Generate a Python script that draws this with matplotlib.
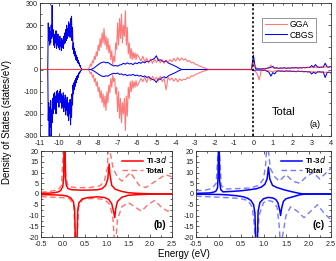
import numpy as np
import matplotlib
matplotlib.use("Agg")
import matplotlib.pyplot as plt
from matplotlib.ticker import MultipleLocator

plt.rcParams['font.family'] = ['Liberation Sans', 'DejaVu Sans']
plt.rcParams['axes.unicode_minus'] = False

# ---- panel (a): total DOS, spin up (+) and spin down (-) ----
# CBGS, energy grids start / step for each segment
cbgs_core_up = [0, 210, 130, 190, 110, 170, 120, 200, 140, 290,
                150, 180, 110, 160, 100, 150, 120, 175, 95, 140,
                110, 160, 100, 135, 90, 150, 105, 125, 85, 140,
                100, 130, 95, 150, 115, 165, 120, 180, 130, 200,
                140, 185, 150, 215, 160, 205, 145, 230, 170, 240,
                130, 190, 90, 120, 70, 95, 60, 80, 45, 65,
                40, 55, 30, 40, 25, 30, 15, 18, 8, 6,
                2, 0, 0]
cbgs_core_dn = [0, -230, -150, -310, -170, -260, -140, -320, -180, -240,
                -130, -200, -110, -180, -105, -160, -120, -200, -100, -150,
                -95, -140, -110, -170, -100, -135, -90, -150, -110, -175,
                -120, -165, -105, -190, -130, -170, -115, -205, -140, -185,
                -125, -210, -150, -230, -160, -200, -135, -250, -150, -215,
                -110, -160, -70, -110, -60, -90, -50, -75, -40, -60,
                -30, -45, -25, -35, -15, -20, -10, -12, -5, -4,
                -1, 0, 0]
cbgs_mid_up = [0, 3, 8, 15, 22, 28, 32, 34, 30, 32,
               26, 20, 16, 18, 15, 20, 22, 28, 24, 30,
               25, 27, 22, 30, 26, 32, 28, 35, 30, 38,
               34, 42, 45, 50, 62, 40, 44, 38, 34, 40,
               30, 26, 22, 18, 14, 9, 4, 0]
cbgs_mid_dn = [0, -3, -8, -14, -20, -26, -30, -32, -28, -30,
               -24, -20, -17, -19, -16, -22, -20, -25, -22, -28,
               -24, -26, -22, -28, -25, -30, -27, -33, -29, -36,
               -32, -40, -45, -48, -58, -42, -45, -36, -33, -38,
               -30, -25, -21, -17, -13, -8, -4, 0]
cbgs_cb_up = [0, 65, 5, 2, 3, 2, 4, 3, 6, 8,
              10, 14, 6, 8, 5, 7, 6, 8, 5, 7,
              6, 8, 7, 9, 6, 8, 7, 9, 8, 10,
              9, 18, 10, 22, 12, 9, 11, 10, 28, 12,
              10, 14]
cbgs_cb_dn = [0, -5, -3, -2, -3, -2, -4, -3, -8, -12,
              -30, -14, -20, -8, -6, -8, -7, -9, -6, -8,
              -7, -9, -8, -10, -7, -9, -8, -10, -9, -11,
              -10, -20, -12, -18, -11, -10, -12, -11, -36, -14,
              -12, -16]

# GGA
gga_vb1_up = [0, 10, 25, 15, 40, 30, 60, 45, 80, 60,
              110, 85, 140, 100, 165, 120, 185, 110, 150, 90,
              140, 75, 110, 45, 85, 20, 60, 35, 120, 90,
              210, 110, 230, 140, 250, 120, 200, 150, 265, 110,
              190, 70, 120, 50, 95, 45, 80, 50, 75, 45,
              70]
gga_vb1_dn = [0, -8, -20, -12, -35, -25, -55, -40, -75, -55,
              -100, -80, -130, -95, -150, -110, -170, -120, -185, -100,
              -150, -70, -105, -40, -80, -25, -55, -40, -110, -80,
              -190, -100, -220, -130, -240, -150, -200, -130, -275, -120,
              -210, -80, -130, -55, -100, -50, -85, -55, -80, -50,
              -75]
gga_vb2_up = [55, 38, 60, 35, 52, 30, 48, 28, 45, 32,
              50, 30, 46, 28, 42, 30, 45, 35, 50, 38,
              54, 40, 52, 42, 48, 36, 40, 30, 32, 24,
              22, 16, 14, 9, 7, 3, 0]
gga_vb2_dn = [-60, -40, -55, -35, -58, -32, -50, -30, -48, -35,
              -52, -30, -55, -40, -92, -35, -48, -38, -52, -40,
              -56, -42, -50, -44, -46, -36, -40, -28, -30, -22,
              -20, -15, -12, -8, -6, -3, 0]
gga_cb_up = [0, 35, 12, 4, 3, 2, 3, 5, 4, 6,
             20, 8, 5, 6, 5, 6, 5, 7, 6, 7,
             6, 7, 7, 8, 7, 8, 8, 9, 8, 9,
             9, 10, 9, 10, 10, 11, 10, 11, 12, 11,
             12, 12]
gga_cb_dn = [0, -5, -8, -20, -47, -6, -3, -4, -5, -6,
             -8, -10, -6, -7, -6, -7, -6, -8, -7, -8,
             -7, -8, -8, -9, -8, -9, -9, -10, -9, -10,
             -10, -11, -10, -11, -11, -12, -11, -12, -13, -12,
             -13, -13]

# ---- panels (b), (c): Ti-3d and total near the gap ----
b_ti_up_e = [-0.5, -0.3, -0.2, -0.1, -0.05, 0.0, 0.02, 0.03, 0.05, 0.06, 0.08, 0.12, 0.2, 0.4,
             0.6, 0.8, 0.9, 0.98, 1.03, 1.06, 1.08, 1.12, 1.2, 1.35, 1.5, 1.7, 2.0, 2.5]
b_ti_up = [0.3, 0.4, 0.6, 1.0, 1.6, 3.5, 8, 25, 25, 8, 4, 2.5, 2.0, 1.8,
           1.8, 2.0, 2.5, 4, 7, 14, 9, 4, 2.2, 1.2, 0.6, 0.3, 0.1, 0]
b_ti_dn_e = [-0.5, -0.2, 0.0, 0.1, 0.18, 0.24, 0.27, 0.29, 0.32, 0.34, 0.37, 0.45, 0.6, 0.8,
             0.95, 1.05, 1.12, 1.16, 1.19, 1.21, 1.25, 1.35, 1.5, 1.7, 2.0, 2.5]
b_ti_dn = [-0.3, -0.4, -0.6, -1.0, -1.8, -3.5, -7, -25, -25, -8, -4, -2.2, -1.6, -1.3,
           -1.6, -2.5, -4.5, -8, -11, -7, -3.5, -1.5, -0.6, -0.3, -0.1, 0]
b_tot_up_e = [-0.5, -0.3, -0.1, -0.03, 0.01, 0.04, 0.07, 0.12, 0.3, 0.6, 0.85, 0.95, 1.02, 1.05,
              1.08, 1.15, 1.25, 1.35, 1.45, 1.55, 1.65, 1.75, 1.9, 2.05, 2.2, 2.35, 2.5]
b_tot_up = [0.8, 1.2, 2.0, 4, 20, 25, 8, 3.5, 3.0, 3.0, 3.8, 6, 12, 25,
            20, 12, 8, 6, 8, 10, 7, 4, 3, 5, 7, 9, 8]
b_tot_dn_e = [-0.5, -0.2, 0.0, 0.15, 0.25, 0.29, 0.32, 0.36, 0.45, 0.7, 0.95, 1.08, 1.15, 1.19,
              1.22, 1.25, 1.35, 1.5, 1.65, 1.8, 1.95, 2.1, 2.25, 2.4, 2.5]
b_tot_dn = [-1.2, -1.5, -1.7, -2.2, -5, -25, -25, -6, -2.5, -2.0, -2.5, -5, -12, -25,
            -20, -12, -6, -4, -6, -8, -5, -3, -6, -8, -7]

c_ti_up_e = [-0.5, -0.2, -0.1, -0.05, -0.02, -0.01, 0.0, 0.015, 0.025, 0.05, 0.1, 0.3, 0.5, 0.7,
             0.85, 0.95, 1.03, 1.08, 1.11, 1.14, 1.2, 1.3, 1.45, 1.6, 1.75, 1.85, 2.0, 2.5]
c_ti_up = [0.3, 0.5, 0.9, 1.5, 3, 8, 25, 25, 6, 2, 1.0, 1.2, 1.5, 2.0,
           2.5, 3.2, 4.5, 7, 12.5, 7, 4, 3, 2.0, 1.2, 0.5, 0.1, 0, 0]
c_ti_dn_e = [-0.5, 0.0, 0.2, 0.4, 0.55, 0.65, 0.72, 0.78, 0.81, 0.83, 0.86, 0.88, 0.92, 1.0,
             1.1, 1.2, 1.27, 1.32, 1.36, 1.38, 1.4, 1.44, 1.5, 1.6, 1.7, 1.8, 1.9, 2.1, 2.5]
c_ti_dn = [-0.1, -0.2, -0.4, -0.8, -1.3, -2.0, -3.0, -5, -9, -25, -25, -8, -4, -2.2,
           -1.6, -1.8, -2.5, -4, -7.5, -10, -7, -3.5, -2.2, -1.6, -1.0, -0.4, -0.1, 0, 0]
c_tot_up_e = [-0.5, -0.3, -0.15, -0.05, -0.01, 0.0, 0.02, 0.06, 0.15, 0.4, 0.7, 0.9, 1.0, 1.05,
              1.08, 1.11, 1.15, 1.25, 1.35, 1.5, 1.65, 1.8, 1.95, 2.1, 2.25, 2.4, 2.5]
c_tot_up = [1.5, 1.8, 2.5, 5, 20, 25, 20, 4, 2.3, 2.5, 2.8, 4, 7, 14,
            25, 20, 12, 8, 6, 9, 6, 5, 8, 10, 7, 10, 12]
c_tot_dn_e = [-0.5, -0.3, 0.0, 0.3, 0.5, 0.65, 0.75, 0.8, 0.83, 0.86, 0.9, 1.0, 1.1, 1.2,
              1.3, 1.35, 1.38, 1.42, 1.5, 1.6, 1.75, 1.9, 2.05, 2.2, 2.35, 2.5]
c_tot_dn = [-1.0, -1.2, -1.5, -1.8, -2.2, -3, -6, -15, -25, -25, -10, -4, -3, -3.5,
            -6, -15, -25, -20, -10, -6, -8, -11, -8, -5, -9, -12]


def grid(start, step, vals):
    return start + step * np.arange(len(vals))


cbgs_e = np.concatenate([grid(-10.6, 0.025, cbgs_core_up),
                         grid(-8.4, 0.1, cbgs_mid_up), grid(-0.1, 0.1, cbgs_cb_up)])
cbgs_up = np.concatenate([cbgs_core_up, cbgs_mid_up, cbgs_cb_up])
cbgs_dn = np.concatenate([cbgs_core_dn, cbgs_mid_dn, cbgs_cb_dn])
gga_e = np.concatenate([[-11.0], grid(-8.5, 0.05, gga_vb1_up),
                        grid(-5.9, 0.1, gga_vb2_up), grid(-0.1, 0.1, gga_cb_up)])
gga_up = np.concatenate([[0], gga_vb1_up, gga_vb2_up, gga_cb_up])
gga_dn = np.concatenate([[0], gga_vb1_dn, gga_vb2_dn, gga_cb_dn])

W, H = 336, 261
fig = plt.figure(figsize=(W / 100, H / 100), dpi=100)
ax_a = fig.add_axes([40 / W, 1 - 136 / H, 291 / W, 133 / H])
ax_b = fig.add_axes([41 / W, 1 - 237 / H, 131 / W, 86 / H])
ax_c = fig.add_axes([196 / W, 1 - 237 / H, 135 / W, 86 / H])


def style(ax, xmaj, xmin, ymaj, ymin):
    ax.xaxis.set_major_locator(MultipleLocator(xmaj))
    ax.xaxis.set_minor_locator(MultipleLocator(xmin))
    ax.yaxis.set_major_locator(MultipleLocator(ymaj))
    ax.yaxis.set_minor_locator(MultipleLocator(ymin))
    ax.tick_params(which='both', direction='in', top=True, right=True,
                   width=0.5, labelsize=5.2, colors='#222222')
    ax.tick_params(axis='x', pad=2.6)
    ax.tick_params(axis='y', pad=1.5)
    ax.tick_params(which='major', length=2.2)
    ax.tick_params(which='minor', length=1.2)
    for s in ax.spines.values():
        s.set_linewidth(0.6)
        s.set_color('#333333')


# (a)
ax_a.plot(cbgs_e, cbgs_up, color='#0000ee', lw=0.75, label='CBGS')
ax_a.plot(cbgs_e, cbgs_dn, color='#0000ee', lw=0.75)
ax_a.plot(gga_e, gga_up, color='#ff2020', alpha=0.6, lw=0.8, label='GGA')
ax_a.plot(gga_e, gga_dn, color='#ff2020', alpha=0.6, lw=0.8)
ax_a.axvline(0, color='black', lw=1.2, ls=(0, (1.3, 1.3)))
ax_a.set_xlim(-11, 4)
ax_a.set_ylim(-300, 300)
style(ax_a, 1, 0.5, 100, 50)
h, l = ax_a.get_legend_handles_labels()
leg = ax_a.legend(h[::-1], l[::-1], loc='upper right', bbox_to_anchor=(0.95, 0.89),
                  fontsize=6.2, frameon=True, fancybox=False, edgecolor='#444444',
                  handlelength=2.6, handletextpad=0.3, borderpad=0.3, labelspacing=0.15,
                  borderaxespad=0)
leg.get_frame().set_linewidth(0.5)
ax_a.text(0.838, 0.18, 'Total', transform=ax_a.transAxes, fontsize=8,
          ha='center', va='center')
ax_a.text(0.945, 0.083, '(a)', transform=ax_a.transAxes, fontsize=6.5,
          ha='center', va='center')

# (b)
ax_b.plot(b_tot_up_e, b_tot_up, color='#ff7070', lw=1.0, dashes=(4, 2.5), label='Total')
ax_b.plot(b_tot_dn_e, b_tot_dn, color='#ff7070', lw=1.0, dashes=(4, 2.5))
ax_b.plot(b_ti_up_e, b_ti_up, color='#ff0000', lw=1.1, label='Ti-3$d$')
ax_b.plot(b_ti_dn_e, b_ti_dn, color='#ff0000', lw=1.1)

# (c)
ax_c.plot(c_tot_up_e, c_tot_up, color='#7a7aff', lw=1.0, dashes=(4, 2.5), label='Total')
ax_c.plot(c_tot_dn_e, c_tot_dn, color='#7a7aff', lw=1.0, dashes=(4, 2.5))
ax_c.plot(c_ti_up_e, c_ti_up, color='#0000ff', lw=1.1, label='Ti-3$d$')
ax_c.plot(c_ti_dn_e, c_ti_dn, color='#0000ff', lw=1.1)

for ax, tag in [(ax_b, '(b)'), (ax_c, '(c)')]:
    ax.set_xlim(-0.5, 2.5)
    ax.set_ylim(-20, 20)
    style(ax, 0.5, 0.25, 5, 2.5)
    h, l = ax.get_legend_handles_labels()
    ax.legend(h[::-1], l[::-1], loc='upper right', bbox_to_anchor=(0.97, 0.97),
              frameon=False, prop={'size': 5.8, 'weight': 'bold'},
              handlelength=2.6, handletextpad=0.4, borderpad=0.1, labelspacing=0.2,
              borderaxespad=0)
    ax.text(0.91, 0.14, tag, transform=ax.transAxes, fontsize=7,
            fontweight='bold', ha='center', va='center')

fig.text(0.022, 0.533, 'Density of States (states/eV)', rotation=90,
         fontsize=7, ha='center', va='center')
fig.text(0.548, 0.027, 'Energy (eV)', fontsize=7, ha='center', va='center')

fig.savefig('out.png', dpi=100)
